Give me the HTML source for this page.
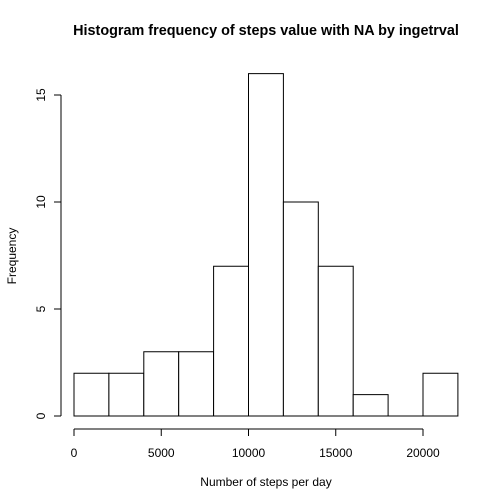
<!DOCTYPE html>
<html><head><meta charset="utf-8"><style>
html,body{margin:0;padding:0;background:#fff;}
svg{display:block;font-family:"Liberation Sans",Arial,sans-serif;}
</style></head><body>
<svg id="chart" width="504" height="504" viewBox="0 0 504 504">
<text x="266" y="35" text-anchor="middle" font-size="14.4" font-weight="bold">Histogram frequency of steps value with NA by ingetrval</text>
<text x="266" y="486" text-anchor="middle" font-size="12">Number of steps per day</text>
<text transform="translate(16,256) rotate(-90)" text-anchor="middle" font-size="12">Frequency</text>
<g id="bars"></g>
<g id="xaxis"></g>
<g id="yaxis"></g>
</svg>
<script>
const binStarts = [0,2000,4000,6000,8000,10000,12000,14000,16000,18000,20000];
const binWidth = 2000;
const counts = [2,2,3,3,7,16,10,7,1,0,2];
const xTicks = [0,5000,10000,15000,20000];
const yTicks = [0,5,10,15];

const NS = "http://www.w3.org/2000/svg";
const xs = v => 74 + (v/20000)*(423-74);
const ys = v => 416 - (v/15)*(416-95);
function mk(tag, attrs, parent){const e=document.createElementNS(NS,tag);for(const k in attrs)e.setAttribute(k,attrs[k]);parent.appendChild(e);return e;}

const bars = document.getElementById('bars');
binStarts.forEach((b,i)=>{
  const x0=xs(b), x1=xs(b+binWidth), y=ys(counts[i]), y0=ys(0);
  const r = mk('path',{d:`M${x0},${y0}L${x0},${y}L${x1},${y}L${x1},${y0}Z`,fill:'#fff',stroke:'#000','stroke-width':1},bars);
  
  
});

const xa = document.getElementById('xaxis');
mk('line',{x1:xs(xTicks[0]),x2:xs(xTicks[xTicks.length-1]),y1:429,y2:429,stroke:'#000'},xa);
xTicks.forEach(t=>{
  mk('line',{x1:xs(t),x2:xs(t),y1:429,y2:436,stroke:'#000'},xa);
  const tx = mk('text',{x:xs(t),y:457,'text-anchor':'middle','font-size':12},xa);
  tx.textContent=t;
  
  
});

const ya = document.getElementById('yaxis');
mk('line',{x1:61,x2:61,y1:ys(yTicks[0]),y2:ys(yTicks[yTicks.length-1]),stroke:'#000'},ya);
yTicks.forEach(t=>{
  mk('line',{x1:54,x2:61,y1:ys(t),y2:ys(t),stroke:'#000'},ya);
  const tx = mk('text',{transform:`translate(45,${ys(t)}) rotate(-90)`,'text-anchor':'middle','font-size':12},ya);
  tx.textContent=t;
  
  
});
</script>
</body></html>
